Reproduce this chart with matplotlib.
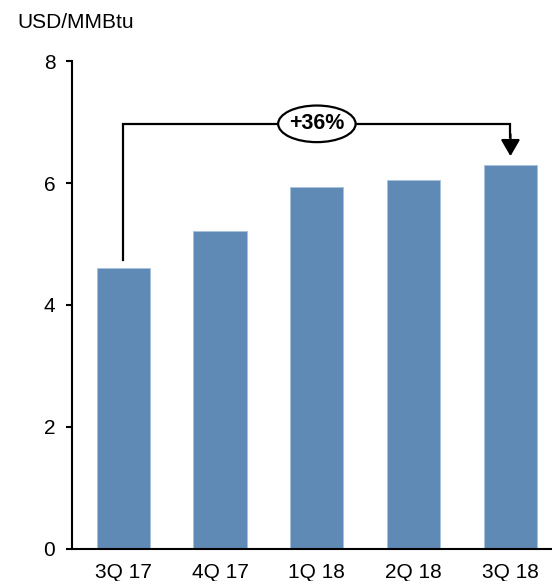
import matplotlib.pyplot as plt
from matplotlib.patches import Ellipse

plt.rcParams['font.family'] = ['Liberation Sans', 'DejaVu Sans']

quarters = ['3Q 17', '4Q 17', '1Q 18', '2Q 18', '3Q 18']
prices = [4.61, 5.21, 5.93, 6.05, 6.30]
change_label = '+36%'

bar_color = '#5f8ab5'

fig = plt.figure(figsize=(5.52, 5.81), dpi=100)
ax = fig.add_axes([0.1304, 0.0551, 0.868, 0.8399])

x = list(range(len(quarters)))
ax.bar(x, prices, width=0.55, color=bar_color, edgecolor='#a9c2dc', linewidth=0.6, zorder=2)

ax.set_xlim(-0.53, 4.42)
ax.set_ylim(0, 8)
ax.set_yticks([0, 2, 4, 6, 8])
ax.set_xticks(x)
ax.set_xticklabels(quarters)

for side in ['top', 'right']:
    ax.spines[side].set_visible(False)
for side in ['left', 'bottom']:
    ax.spines[side].set_linewidth(1.5)
ax.tick_params(axis='y', length=4, width=1.5, labelsize=15, pad=8)
ax.tick_params(axis='x', length=0, labelsize=15, pad=10)

fig.text(17 / 552, 1 - 22 / 581, 'USD/MMBtu', fontsize=15, va='center', ha='left')

# bracket from first to last quarter
y_br = 6.97
ax.plot([0, 0, 4, 4], [4.74, y_br, y_br, 6.75], color='black', lw=1.6,
        solid_joinstyle='miter', zorder=3)
ax.annotate('', xy=(4, 6.44), xytext=(4, 6.8),
            arrowprops=dict(arrowstyle='-|>,head_width=0.58,head_length=1.0',
                            color='black', lw=1.6, shrinkA=0, shrinkB=0,
                            mutation_scale=10))

ell = Ellipse((2.0, y_br), width=0.8, height=0.6, facecolor='white',
              edgecolor='black', lw=1.6, zorder=4)
ax.add_patch(ell)
ax.text(2.0, y_br, change_label, ha='center', va='center', fontsize=15.5,
        fontweight='bold', zorder=5)

fig.savefig('out.png', dpi=100)
